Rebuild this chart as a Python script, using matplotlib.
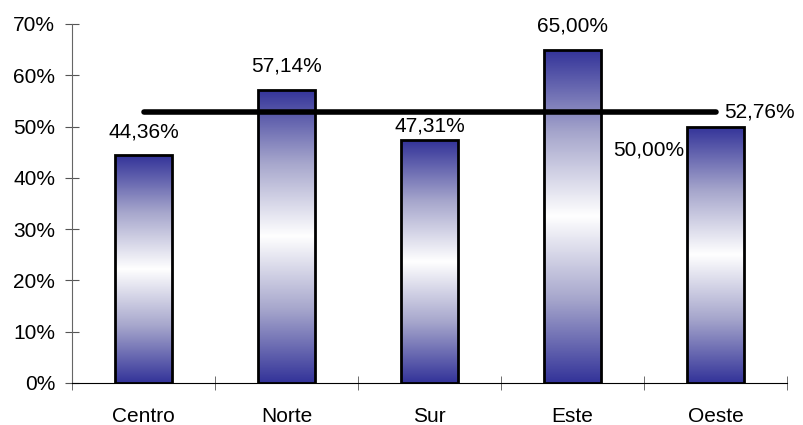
import numpy as np
import matplotlib
matplotlib.use("Agg")
import matplotlib.pyplot as plt
from matplotlib.colors import LinearSegmentedColormap
from matplotlib.patches import Rectangle

plt.rcParams['font.family'] = ['Liberation Sans', 'DejaVu Sans']

categories = ["Centro", "Norte", "Sur", "Este", "Oeste"]
values = [44.36, 57.14, 47.31, 65.00, 50.00]
average = 52.76
yticks = [0, 10, 20, 30, 40, 50, 60, 70]

FS = 15

fig = plt.figure(figsize=(8.04, 4.25), dpi=100)
ax = fig.add_axes([72/804, (425-383)/425, (787-72)/804, (383-24)/425])

x = np.arange(len(categories))
width = 0.4
cmap = LinearSegmentedColormap.from_list(
    "g", ["#333399", "#a6a6cc", "#ffffff", "#a6a6cc", "#333399"])
grad = np.linspace(0, 1, 256).reshape(-1, 1)

bars = ax.bar(x, values, width=width, color="none", edgecolor="black",
              linewidth=2, zorder=3)
for b in bars:
    x0, y0 = b.get_x(), b.get_y()
    w, h = b.get_width(), b.get_height()
    im = ax.imshow(grad, cmap=cmap, aspect="auto", extent=(x0, x0 + w, y0, y0 + h),
                   origin="lower", zorder=2, interpolation="bilinear")
    clip = Rectangle((x0, y0), w, h, transform=ax.transData)
    im.set_clip_path(clip)

fmt = lambda v: f"{v:.2f}".replace(".", ",") + "%"
label_offsets = [(0, 17), (0, 17), (0, 10.5), (0, 17), (-2, -17)]
for i, v in enumerate(values):
    dx, dy = label_offsets[i]
    if i == len(values) - 1:
        ax.annotate(fmt(v), (x[i] - width / 2, v), xytext=(dx, dy),
                    textcoords="offset points", ha="right", va="center", fontsize=FS)
    else:
        ax.annotate(fmt(v), (x[i], v), xytext=(dx, dy),
                    textcoords="offset points", ha="center", va="center", fontsize=FS)

ax.plot([x[0], x[-1]], [average, average], color="black", linewidth=4,
        solid_capstyle="round", zorder=4)
ax.annotate(fmt(average), (x[-1], average), xytext=(6, 0.5),
            textcoords="offset points", ha="left", va="center", fontsize=FS)

ax.set_xlim(-0.5, len(categories) - 0.5)
ax.set_ylim(0, 70)
ax.set_yticks(yticks)
ax.set_yticklabels([f"{t}%" for t in yticks], fontsize=FS)
ax.set_xticks(x)
ax.set_xticklabels(categories, fontsize=FS)
ax.set_xticks(np.arange(len(categories) + 1) - 0.5, minor=True)
ax.tick_params(axis="x", which="major", length=0, pad=17.5)
ax.tick_params(axis="x", which="minor", direction="inout", length=10, color="#555555")
ax.tick_params(axis="y", direction="inout", length=10, color="#555555", pad=7)
for s in ["top", "right"]:
    ax.spines[s].set_visible(False)
ax.spines["left"].set_color("#666666")
ax.spines["bottom"].set_color("black")

fig.savefig("out.png", dpi=100)
